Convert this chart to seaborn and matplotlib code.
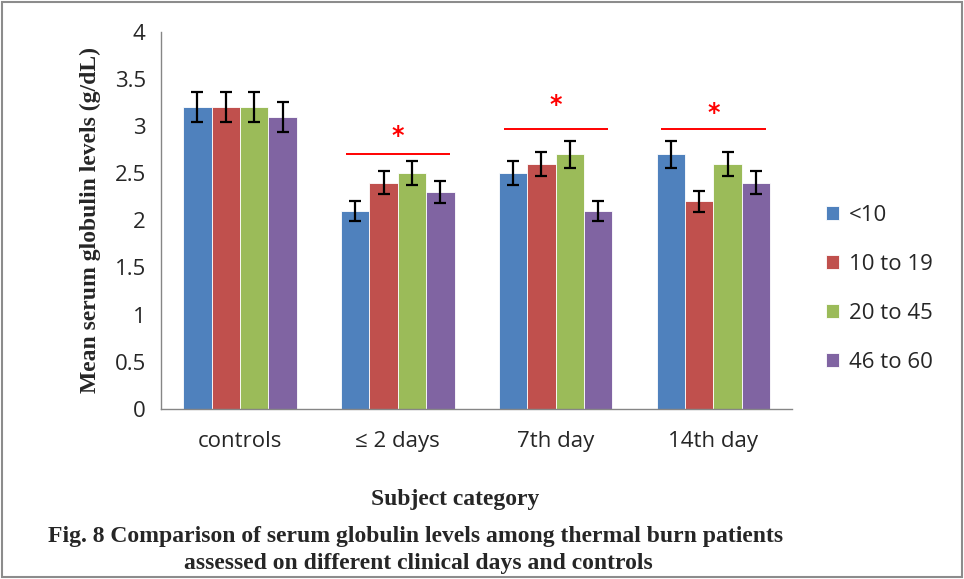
import matplotlib
matplotlib.use("Agg")
import matplotlib.pyplot as plt
import seaborn as sns
import pandas as pd

# Daten
categories = ["controls", "\u2264 2 days", "7th day", "14th day"]
groups = ["<10", "10 to 19", "20 to 45", "46 to 60"]
values = {
    "<10":      [3.2, 2.1, 2.5, 2.7],
    "10 to 19": [3.2, 2.4, 2.6, 2.2],
    "20 to 45": [3.2, 2.5, 2.7, 2.6],
    "46 to 60": [3.1, 2.3, 2.1, 2.4],
}
errors = {
    "<10":      [0.16, 0.11, 0.13, 0.14],
    "10 to 19": [0.16, 0.12, 0.13, 0.11],
    "20 to 45": [0.16, 0.13, 0.14, 0.13],
    "46 to 60": [0.16, 0.12, 0.11, 0.12],
}
# Signifikanz-Markierungen (Kategorie-Index, Linienhöhe, Sternhöhe)
sig_cats = [1, 2, 3]
sig_line = [2.70, 2.97, 2.97]
sig_star = [2.90, 3.22, 3.14]

colors = ["#4F81BD", "#C0504D", "#9BBB59", "#8064A2"]

rows = []
for g in groups:
    for c, v in zip(categories, values[g]):
        rows.append({"Subject category": c, "Age": g, "Globulin": v})
df = pd.DataFrame(rows)

sns.set_style("white")
fig = plt.figure(figsize=(9.64, 5.79), dpi=100)
ax = fig.add_axes([0.167, 0.294, 0.655, 0.651])

sns.barplot(data=df, x="Subject category", y="Globulin", hue="Age",
            order=categories, hue_order=groups, palette=colors,
            width=0.72, gap=0, errorbar=None, saturation=1,
            edgecolor="white", linewidth=0.6, ax=ax)

# Fehlerbalken
for cont, g in zip(ax.containers, groups):
    xs = [b.get_x() + b.get_width() / 2 for b in cont]
    ax.errorbar(xs, values[g], yerr=errors[g], fmt="none", ecolor="black",
                elinewidth=1.6, capsize=4.5, capthick=1.6, zorder=5)

# Signifikanz
for i, yl, ys in zip(sig_cats, sig_line, sig_star):
    ax.hlines(yl, i - 0.33, i + 0.33, color="red", linewidth=1.4)
    ax.text(i, ys, "*", color="red", ha="center", va="center",
            fontsize=17, fontweight="bold", fontfamily="DejaVu Sans")

ax.set_ylim(0, 4)
ax.set_xlim(-0.5, 3.5)
ax.set_yticks([0, 0.5, 1, 1.5, 2, 2.5, 3, 3.5, 4])
ax.set_yticklabels(["0", "0.5", "1", "1.5", "2", "2.5", "3", "3.5", "4"])
ax.set_xticks([-0.5, 0.5, 1.5, 2.5, 3.5], minor=False)
ax.set_xticklabels([])
ax.set_xticks([0, 1, 2, 3], minor=True)
ax.set_xticklabels(categories, minor=True)
ax.tick_params(axis="x", which="major", direction="out", length=6,
               color="#868686", width=1)
ax.tick_params(axis="x", which="minor", length=0, labelsize=16, pad=16)
ax.tick_params(axis="y", direction="out", length=5, color="#868686",
               width=1, labelsize=16, pad=6)
for lab in ax.get_xticklabels(minor=True) + ax.get_yticklabels():
    lab.set_fontfamily("Open Sans")

for s in ["top", "right"]:
    ax.spines[s].set_visible(False)
for s in ["left", "bottom"]:
    ax.spines[s].set_color("#868686")
    ax.spines[s].set_linewidth(1)

ax.set_xlabel("")
ax.set_ylabel("Mean serum globulin levels (g/dL)", fontfamily="Liberation Serif",
              fontweight="bold", fontsize=17, labelpad=10)

leg = ax.legend(loc="center left", bbox_to_anchor=(1.0, 0.318), frameon=False,
                prop={"family": "Open Sans", "size": 16},
                handlelength=0.6, handleheight=0.6, labelspacing=1.25,
                handletextpad=0.45, borderaxespad=1.1)

fig.text(0.472, 0.138, "Subject category", ha="center", va="center",
         fontfamily="Liberation Serif", fontweight="bold", fontsize=17)
fig.text(0.05, 0.073, "Fig. 8 Comparison of serum globulin levels among thermal burn patients",
         ha="left", va="center", fontfamily="Liberation Serif", fontweight="bold", fontsize=17)
fig.text(0.434, 0.027, "assessed on different clinical days and controls",
         ha="center", va="center", fontfamily="Liberation Serif", fontweight="bold", fontsize=17)

# Rahmen
fig.patches.append(plt.Rectangle((0.002, 0.003), 0.996, 0.994, transform=fig.transFigure,
                                 fill=False, edgecolor="#8c8c8c", linewidth=1.5))

fig.savefig("out.png", dpi=100)
